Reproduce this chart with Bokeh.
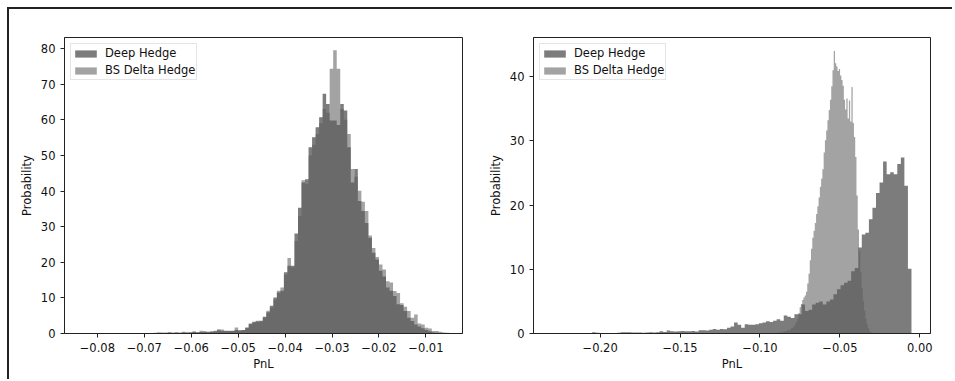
import numpy as np
from bokeh.plotting import figure
from bokeh.layouts import row
from bokeh.models import Range1d, FixedTicker, Legend, LegendItem, CustomJSTickFormatter
from bokeh.embed import file_html
from bokeh.resources import INLINE

series_names = ["Deep Hedge", "BS Delta Hedge"]

# ---------------- left panel data ----------------
left_bin_start = -0.0800
left_bin_width = 0.00075
left_deep = [
    0, 0, 0, 0, 0, 0.1, 0, 0, 0, 0, 0, 0.1, 0, 0, 0,
    0.1, 0.1, 0.2, 0.2, 0.1, 0.2, 0.2, 0.3, 0.2, 0.3, 0.3, 0.2, 0.4, 0.3, 0.4, 0.4,
    0.5, 0.4, 0.6, 0.9, 0.7, 0.8, 0.7, 0.8, 1.0, 0.9,
    1.0, 1.7, 2.8, 3.3, 3.4, 3.6, 4.7, 6.0, 7.8, 10.1,
    11.5, 12.0, 17.2, 19.0, 19.0, 28.1, 35.3, 42.4, 43.3, 52.3,
    55.1, 57.9, 60.7, 67.3, 64.4, 59.8, 59.8, 58.5, 64.4, 62.6,
    52.3, 42.4, 46.2, 37.2, 34.4, 31.0, 26.9, 22.7, 20.8, 17.6,
    16.0, 12.9, 12.0, 10.5, 8.2, 8.0, 6.3, 4.4, 3.5, 2.5,
    2.0, 1.5, 1.0, 0.6, 0.3, 0.2, 0.1, 0, 0,
]
left_bs = [
    0, 0, 0, 0.1, 0, 0, 0, 0, 0, 0, 0.1, 0, 0, 0, 0.1,
    0.1, 0.2, 0.3, 0.2, 0.3, 0.4, 0.2, 0.3, 0.2, 0.5, 0.3, 0.4, 0.6, 0.4, 0.8, 0.7,
    0.3, 0.7, 0.8, 1.2, 1.1, 0.6, 0.8, 0.7, 1.7, 0.8,
    0.9, 1.5, 2.5, 3.0, 3.6, 3.3, 4.4, 6.4, 7.2, 9.5,
    12.0, 12.9, 16.5, 21.2, 18.5, 26.0, 33.0, 43.0, 42.0, 50.0,
    53.0, 56.0, 59.0, 63.0, 62.0, 74.3, 79.5, 74.3, 63.0, 60.0,
    56.0, 46.2, 44.0, 40.1, 37.0, 34.4, 27.5, 24.0, 21.5, 19.4,
    18.0, 14.7, 14.3, 11.9, 11.4, 8.5, 7.5, 6.3, 4.4, 5.3,
    2.8, 2.5, 1.6, 1.4, 0.7, 0.7, 0.5, 0.3, 0.2,
]
left_xticks = [-0.08, -0.07, -0.06, -0.05, -0.04, -0.03, -0.02, -0.01]
left_yticks = [0, 10, 20, 30, 40, 50, 60, 70, 80]

# ---------------- right panel data ----------------
right_deep_start = -0.2050
right_deep_width = 0.00222
right_deep = [
    0.2, 0.1, 0, 0, 0.05, 0, 0.05, 0.1, 0.2, 0.2,
    0.2, 0.15, 0.15, 0.15, 0.1, 0.15, 0.2, 0.15, 0.2, 0.36,
    0.25, 0.47, 0.36, 0.3, 0.36, 0.4, 0.35, 0.36, 0.4, 0.3,
    0.5, 0.5, 0.45, 0.6, 0.7, 0.6, 0.7, 0.65, 0.9, 1.1,
    1.7, 1.35, 0.9, 1.45, 1.35, 1.35, 1.45, 1.6, 1.7, 1.9,
    1.8, 2.0, 2.2, 2.0, 2.8, 2.6, 2.4, 3.0, 3.0, 4.5,
    3.5, 3.7, 4.5, 4.8, 5.0, 4.5, 5.0, 5.3, 6.1, 6.9,
    7.5, 7.9, 8.2, 9.7, 10.2, 13.4, 15.4, 15.7, 17.8, 19.6,
    21.9, 23.5, 26.8, 24.8, 25.1, 24.8, 26.4, 27.4, 23.0, 10.1,
]
right_bs_start = -0.0886
right_bs_width = 0.00079
right_bs = [
    0.1, 0.2, 0.1, 0.3, 0.2, 0.4, 0.3, 0.5, 0.6, 0.5,
    0.8, 0.9, 1.1, 1.4, 1.8, 2.3, 3.2, 4.1, 4.6, 5.2,
    5.6, 5.9, 6.5, 7.8, 9.3, 11.4, 13.2, 14.9, 16.0, 17.2,
    18.6, 19.8, 21.2, 22.8, 24.1, 25.6, 28.2, 30.1, 31.6, 33.2,
    34.8, 36.4, 38.5, 41.0, 44.0, 42.1, 41.6, 40.9, 41.2, 40.2,
    39.5, 38.6, 36.4, 34.9, 36.6, 33.5, 36.3, 33.0, 38.4, 32.8,
    30.6, 27.5, 21.5, 16.2, 12.8, 9.5, 7.0, 5.1, 3.6, 2.3,
    1.4, 0.8, 0.4, 0.2, 0.1,
]
right_xticks = [-0.20, -0.15, -0.10, -0.05, 0.00]
right_yticks = [0, 10, 20, 30, 40]

FONT = "DejaVu Sans"
FS = "11.5px"
DEEP_COLOR = "#191919"
BS_COLOR = "#5e5e5e"
ALPHA = 0.57


def step_outline(start, width, vals):
    vals = np.asarray(vals, dtype=float)
    edges = start + width * np.arange(len(vals) + 1)
    xs = np.repeat(edges, 2)
    ys = np.concatenate([[0.0], np.repeat(vals, 2), [0.0]])
    return xs, ys


def make_panel(xr, yr, deep, bs, xticks, yticks, bl, br, width):
    p = figure(width=width, height=370, output_backend="svg", toolbar_location=None,
               x_range=Range1d(*xr), y_range=Range1d(*yr),
               min_border_left=bl, min_border_right=br,
               min_border_top=28, min_border_bottom=46)
    p.xgrid.visible = False
    p.ygrid.visible = False
    p.background_fill_color = "white"
    p.border_fill_color = "white"
    p.outline_line_color = "#222222"
    p.outline_line_width = 1

    xs, ys = step_outline(*deep)
    r1 = p.patch(xs, ys, fill_color=DEEP_COLOR, fill_alpha=ALPHA, line_color=None)
    xs, ys = step_outline(*bs)
    r2 = p.patch(xs, ys, fill_color=BS_COLOR, fill_alpha=ALPHA, line_color=None)

    p.xaxis.ticker = FixedTicker(ticks=xticks)
    p.xaxis.formatter = CustomJSTickFormatter(code="return tick.toFixed(2).replace('-', '\u2212');")
    p.yaxis.ticker = FixedTicker(ticks=yticks)
    p.xaxis.axis_label = "PnL"
    p.yaxis.axis_label = "Probability"
    for ax in (p.xaxis[0], p.yaxis[0]):
        ax.axis_line_color = "#222222"
        ax.major_tick_line_color = "#222222"
        ax.major_tick_out = 4
        ax.major_tick_in = 0
        ax.minor_tick_line_color = None
        ax.major_label_text_font = FONT
        ax.major_label_text_font_size = FS
        ax.major_label_text_color = "#111111"
        ax.major_label_standoff = 5
        ax.axis_label_text_font = FONT
        ax.axis_label_text_font_size = FS
        ax.axis_label_text_font_style = "normal"
        ax.axis_label_text_color = "#111111"
    p.xaxis.axis_label_standoff = 2
    p.yaxis.axis_label_standoff = 4

    legend = Legend(items=[LegendItem(label=series_names[0], renderers=[r1]),
                           LegendItem(label=series_names[1], renderers=[r2])],
                    location="top_left")
    legend.label_text_font = FONT
    legend.label_text_font_size = FS
    legend.label_text_color = "#111111"
    legend.glyph_width = 27
    legend.glyph_height = 9
    legend.label_height = 16
    legend.label_standoff = 6
    legend.padding = 1
    legend.spacing = 1
    legend.margin = 6
    legend.border_line_color = "#cccccc"
    legend.background_fill_alpha = 0.8
    p.add_layout(legend)
    return p


p1 = make_panel((-0.0870, -0.0022), (0, 83.1),
                (left_bin_start, left_bin_width, left_deep),
                (left_bin_start, left_bin_width, left_bs),
                left_xticks, left_yticks, 55, 17, 470)
p2 = make_panel((-0.2417, 0.0067), (0, 46.1),
                (right_deep_start, right_deep_width, right_deep),
                (right_bs_start, right_bs_width, right_bs),
                right_xticks, right_yticks, 54, 22, 473)

layout = row(p1, p2, styles={"border-top": "2px solid #222222",
                             "border-left": "2px solid #222222",
                             "margin-top": "7px", "margin-left": "7px"})

open("out.html", "w").write(file_html(layout, INLINE))
